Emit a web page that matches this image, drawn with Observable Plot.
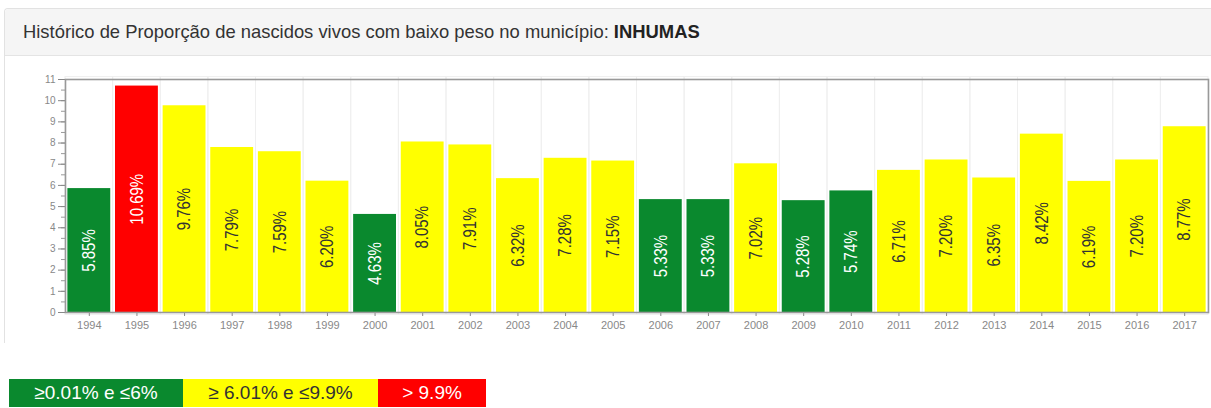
<!DOCTYPE html>
<html><head><meta charset="utf-8">
<script src="https://cdn.jsdelivr.net/npm/d3@7"></script>
<script src="https://cdn.jsdelivr.net/npm/@observablehq/plot@0.6"></script>
<style>
html,body{margin:0;padding:0;background:#fff;}
body{font-family:Arial,"Liberation Sans",sans-serif;width:1211px;height:408px;overflow:hidden;position:relative;}
#panel{position:absolute;left:4px;top:8px;width:1230px;height:335px;border:1px solid #e2e2e2;border-bottom:none;border-radius:4px 0 0 0;box-sizing:border-box;}
#header{position:absolute;left:0;top:0;right:0;height:46px;background:#f5f5f5;border-bottom:1px solid #e4e4e4;border-radius:4px 0 0 0;}
#title{position:absolute;left:23px;top:22px;font-size:18.4px;line-height:20px;color:#333;white-space:nowrap;}
#title b{font-weight:bold;color:#222;}
#chart{position:absolute;left:0;top:56px;width:1211px;}
#chart svg{max-width:none;}
#legend{position:absolute;left:9px;top:379px;display:flex;height:28px;}
#legend div{height:28px;line-height:28px;text-align:center;font-size:19px;white-space:nowrap;}
</style>
</head><body>
<div id="panel"><div id="header"></div></div>
<div id="title">Histórico de Proporção de nascidos vivos com baixo peso no município: <b>INHUMAS</b></div>
<div id="chart"></div>
<div id="legend"></div>
<script>
const years = ["1994","1995","1996","1997","1998","1999","2000","2001","2002","2003","2004","2005","2006","2007","2008","2009","2010","2011","2012","2013","2014","2015","2016","2017"];
const values = [5.85,10.69,9.76,7.79,7.59,6.20,4.63,8.05,7.91,6.32,7.28,7.15,5.33,5.33,7.02,5.28,5.74,6.71,7.20,6.35,8.42,6.19,7.20,8.77];
const legendLabels = ["≥0.01% e ≤6%","≥ 6.01% e ≤9.9%","> 9.9%"];
const classColors = ["#0a892e","#ffff00","#ff0000"];
const classText = ["#ffffff","#333333","#ffffff"];
const legendWidths = [174,195,108];
const yTicks = [0,1,2,3,4,5,6,7,8,9,10,11];
const yMinorTicks = [0,0.5,1,1.5,2,2.5,3,3.5,4,4.5,5,5.5,6,6.5,7,7.5,8,8.5,9,9.5,10,10.5,11];

const cls = v => v <= 6 ? 0 : (v <= 9.9 ? 1 : 2);
const data = years.map((y,i) => ({year:y, value:values[i], c:cls(values[i])}));

const chart = Plot.plot({
  width:1211, height:284,
  marginLeft:65, marginRight:3, marginTop:23, marginBottom:28,
  style:{fontFamily:"Arial, 'Liberation Sans', sans-serif", background:"transparent"},
  x:{type:"band", domain:years, paddingInner:0.1, paddingOuter:0.05, round:false, label:null},
  y:{domain:[0,11], label:null},
  color:{type:"ordinal", domain:[0,1,2], range:classColors},
  marks:[
    Plot.barY(years, {x:d=>d, y1:0, y2:11, fill:"none", stroke:"#efefef", strokeWidth:1, inset:-2.4}),
    Plot.barY(data, {x:"year", y:"value", fill:"c"}),
    ...[0,1,2].map(k => Plot.text(data.filter(d=>d.c===k), {
      x:"year", y:d=>d.value/2, text:d=>d.value.toFixed(2)+"%", rotate:-90,
      fill:classText[k], fontSize:15
    })),
    Plot.axisY({ticks:yMinorTicks, tickSize:4, tickFormat:()=>"", stroke:"#999"}),
    Plot.axisY({ticks:yTicks, tickSize:7, tickPadding:3, fontSize:10, color:"#888"}),
    Plot.axisX({tickSize:4, tickPadding:5, fontSize:11, color:"#888"}),
    Plot.frame({stroke:"#999", strokeWidth:1.6})
  ]
});
chart.querySelectorAll('g[aria-label="text"] text').forEach(t => {
  const tr = t.getAttribute("transform");
  if (tr) t.setAttribute("transform", tr + " scale(1,1.2)");
});
document.getElementById("chart").appendChild(chart);

const lg = document.getElementById("legend");
legendLabels.forEach((t,i) => {
  const d = document.createElement("div");
  d.textContent = t;
  d.style.background = classColors[i];
  d.style.color = classText[i];
  d.style.width = legendWidths[i] + "px";
  lg.appendChild(d);
});
</script>
</body></html>
